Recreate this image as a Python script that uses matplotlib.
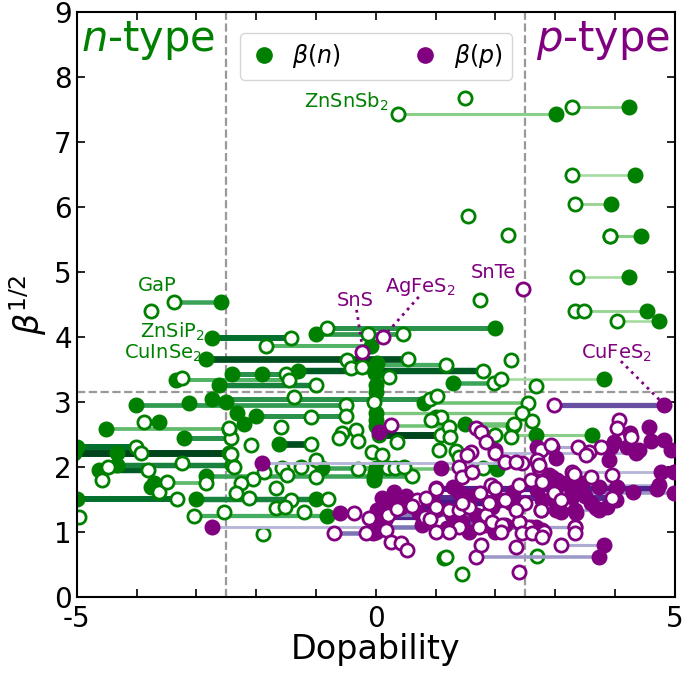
import numpy as np
import matplotlib
matplotlib.use("Agg")
import matplotlib.pyplot as plt
from matplotlib.lines import Line2D

na = np.nan

# n-type materials (green): segment from filled beta(n) marker to open marker
g_beta = [7.43, 7.54, 6.49, 6.05, 5.55, 4.92, 4.40, 4.25, 4.54, 3.98, 4.14, 4.05, 3.87, 3.66,
          3.57, 3.48, 3.44, 3.34, 3.26, 3.30, 3.35, 3.05, 2.99, 2.95, 2.69, 2.78, 2.58, 2.44,
          2.35, 2.31, 2.21, 1.95, 2.03, 1.75, 1.86, 1.51, 1.51, 1.25, 1.98, 2.83, 2.64, 2.49,
          2.66, 1.97, 2.49]
g_fill = [3.02, 4.23, 4.33, 3.93, 4.43, 4.23, 4.53, 4.73, -2.59, -2.73, 2.00, -1.00, -0.08, -2.83,
          0.00, -1.30, -2.41, -3.34, -2.62, 1.30, 3.81, -2.74, 0.80, -4.01, -3.63, -2.00, -4.51, -3.21,
          -1.62, -5.00, -5.05, -4.63, -4.33, -3.71, -2.83, -5.00, -3.01, -0.82, -0.90, 0.00, 0.00, 0.05,
          1.50, 2.02, 3.61]
g_open = [0.38, 3.28, 3.29, 3.34, 3.91, 3.36, 3.34, 4.03, -3.38, -1.42, -0.82, 0.45, -1.84, 0.54,
          1.17, 1.79, -1.50, -1.45, -1.00, 1.97, 2.10, 0.90, 2.55, -0.50, -3.88, -0.50, -2.46, -2.42,
          -1.09, -4.01, -2.46, -3.81, -2.41, -2.84, 0.60, -3.33, -0.79, -3.04, 0.20, 2.45, 2.30, 1.09,
          2.31, -0.30, 2.00]
g_shade = [0.2, 0.15, 0.1, 0.15, 0.2, 0.1, 0.15, 0.1, 0.5, 0.8, 0.6, 0.55, 0.4, 0.95,
           0.45, 0.9, 0.6, 0.4, 0.7, 0.5, 0.1, 0.6, 0.3, 0.55, 0.7, 0.6, 0.35, 0.6,
           0.95, 0.8, 1.0, 0.9, 0.7, 0.35, 0.5, 0.8, 0.7, 0.45, 0.5, 0.25, 0.3, 1.0,
           0.3, 0.3, 0.2]

# green markers without a visible partner
g_dot_x = [3.91, -1.91, 0.02, -0.02, 0.00, 0.00, -2.51, -3.13, -2.32, -2.20, -4.33, -3.75, -1.00,
           1.00, 2.68, 1.14, 0.00, -0.02, -0.03, 0.00, -0.03]
g_dot_y = [5.55, 3.43, 3.60, 3.45, 3.26, 3.15, 3.00, 2.99, 2.83, 2.67, 2.21, 1.69, 1.51,
           2.77, 2.49, 0.60, 1.98, 1.91, 1.80, 2.72, 1.85]
g_ring_x = [1.49, 1.54, 2.21, 3.49, 1.74, -3.75, -3.24, 2.68, 2.26, 0.22, 1.02, -1.37, -0.03,
            -2.46, -1.09, -1.59, -0.33, -0.57, -2.09, -4.58, -4.48, -3.63, -3.49, -3.24, -4.97,
            -1.89, -2.54, -3.93, -2.42, -2.37, -1.57, -1.25, -1.00, -1.00, -1.49, -1.87, -2.06,
            -2.26, -2.34, -2.12, -1.67, -1.42, -1.67, -1.51, -1.20, -0.07, -0.62, -0.30, 1.09,
            0.92, 1.22, 1.25, 1.05, 1.35, 1.40, 1.80, 0.10, 0.33, 0.47, 0.35, 2.61, 2.27, 1.18,
            1.44, 2.69, 0.17, 0.33, -0.13, -0.48, -0.42, -0.23]
g_ring_y = [7.68, 5.86, 5.57, 4.40, 4.57, 4.40, 3.37, 3.25, 3.65, 3.38, 3.10, 3.08, 3.00,
            2.60, 2.77, 2.62, 2.57, 2.52, 2.34, 1.80, 2.00, 1.62, 1.77, 2.06, 1.23,
            0.97, 1.31, 2.21, 2.20, 2.00, 1.98, 2.00, 2.11, 1.85, 1.88, 1.92, 1.82,
            1.75, 1.60, 1.52, 1.68, 1.49, 1.37, 1.38, 1.31, 2.23, 2.45, 2.40, 2.77,
            2.72, 2.62, 2.46, 2.26, 2.25, 2.15, 1.98, 2.18, 1.98, 2.00, 2.38, 2.71, 2.46, 0.62,
            0.35, 0.63, 1.49, 1.46, 4.05, 3.65, 3.52, 3.54]

# p-type materials (purple)
p_beta = [2.95, 1.08, 2.07, 1.29, 0.98, 2.22, 1.85, 1.72, 1.66, 1.52, 1.45, 1.38, 1.23, 1.08,
          1.08, 0.62, 0.80, 2.31, 1.60, 1.92, 1.34, 1.15, 1.26]
p_fill = [4.82, -2.74, -1.91, -0.59, -0.05, 4.35, 2.94, 4.73, 4.70, 0.10, 0.25, 0.42, -0.03, -0.03,
          2.59, 3.73, 3.81, 2.69, 4.98, 4.77, 3.73, 1.44, 1.67]
p_open = [2.98, 1.40, 2.45, -0.37, -0.70, 2.00, 3.60, 2.39, 1.00, 3.95, 2.50, 1.00, 0.83, 2.55,
          3.34, 1.67, 3.09, 3.76, 2.98, 3.28, 2.76, 2.40, 0.20]
p_shade = [0.65, 0.15, 0.15, 0.5, 0.5, 0.15, 0.25, 0.15, 0.85, 0.8, 0.9, 0.9, 0.85, 0.5,
           0.25, 0.3, 0.2, 0.2, 0.3, 0.15, 0.25, 0.6, 0.45]

p_dot_x = [0.05, 1.09, 4.57, 4.93, 4.40, 4.20, 3.98, 3.90, 3.93, 4.82, 3.01, 2.69, 3.01, 3.73, 4.01,
           4.01, 4.98, 4.03, 3.31, 3.03, 2.98, 3.28, 3.35, 3.09, 2.76, 2.56, 3.68, 3.86, 2.00, 4.25,
           4.60, 1.00, 1.30, 1.39, 0.94, 0.72, 1.00, 1.27, 1.67, 1.94, 2.06, 2.27, 1.84, 2.17, 2.42,
           0.02, 0.00, 0.05, 0.77, 1.19, 1.56, 2.00, 2.68, 2.78, 2.69, 2.78, 2.98, 3.01, 2.89, 3.18,
           3.28, 3.34, 0.50, 0.30, 1.60, 2.30, 0.15, 3.50, 3.60, 4.30, 3.45]
p_dot_y = [2.54, 1.98, 2.62, 2.26, 2.26, 2.31, 2.38, 2.11, 2.31, 2.42, 2.14, 2.08, 1.69, 1.69, 1.68,
           1.49, 1.92, 1.69, 1.69, 1.80, 1.60, 1.54, 1.29, 1.31, 1.34, 1.03, 1.37, 1.38, 2.26, 2.52,
           2.40, 1.68, 1.69, 1.62, 1.49, 1.29, 1.34, 1.26, 1.26, 1.38, 1.49, 1.45, 1.11, 1.11, 1.14,
           1.34, 1.00, 1.26, 1.11, 1.06, 1.00, 1.00, 1.08, 1.03, 1.65, 1.49, 1.49, 1.34, 1.88, 1.75,
           1.65, 1.34, 1.55, 1.62, 1.55, 1.62, 1.18, 1.55, 1.45, 1.62, 1.75]
p_ring_x = [-0.23, 0.13, 2.46, 0.25, 1.67, 1.76, 1.84, 1.59, 2.17, 2.34, 1.52, 1.39, 1.44, 1.61,
            2.94, 2.76, 3.39, 3.56, 4.06, 4.03, 2.69, 2.73, 3.31, 3.95, 4.27, 3.51, 2.93, 2.59,
            2.81, 3.34, 3.34, -0.12, 0.17, 0.69, 0.84, 1.22, 1.39, 1.56, 1.92, 2.00, 2.17, 2.34,
            1.84, 1.94, 2.11, 2.09, 1.72, 1.00, 1.22, 2.44, 2.73, 2.78, 2.61, 2.78, 3.09, 0.25,
            0.42, 0.52, 1.76, 2.34, 2.39, -0.17, 0.60, 0.35, 1.45, 1.75, 0.90, 1.90]
p_ring_y = [3.77, 4.00, 4.74, 2.65, 2.60, 2.54, 2.38, 2.23, 2.08, 2.08, 2.18, 2.00, 1.85, 1.92,
            2.31, 2.26, 2.31, 2.23, 2.72, 2.60, 2.11, 1.98, 1.90, 1.88, 2.46, 2.18, 2.34, 1.80,
            1.00, 1.08, 0.98, 1.22, 1.03, 1.49, 1.52, 1.34, 1.34, 1.38, 1.72, 1.68, 1.49, 1.34,
            1.26, 1.15, 1.11, 1.00, 1.08, 1.00, 1.00, 0.98, 2.03, 1.77, 0.98, 0.92, 1.49, 0.85,
            0.83, 0.72, 0.80, 0.77, 0.38, 0.98, 1.40, 1.35, 1.45, 1.60, 1.20, 1.45]


fig = plt.figure(figsize=(6.85, 6.75), dpi=100)
ax = fig.add_axes([0.112, 0.1156, 0.873, 0.866])


def draw_group(beta, xf, xo, shade, cmap, color, dot_x, dot_y, ring_x, ring_y, z):
    for b, f, o, s in zip(beta, xf, xo, shade):
        ax.plot([f, o], [b, b], color=cmap(0.3 + 0.7 * s), lw=1.5 + 3.5 * s,
                solid_capstyle="butt", zorder=z)
    ax.plot(list(xf) + dot_x, list(beta) + dot_y, "o", color=color, ms=10.5, zorder=z + 1)
    ax.plot(list(xo) + ring_x, list(beta) + ring_y, "o", mfc="white", mec=color,
            mew=2, ms=9.5, zorder=z + 1)


draw_group(g_beta, g_fill, g_open, g_shade, plt.cm.Greens, "green",
           g_dot_x, g_dot_y, g_ring_x, g_ring_y, 1)
draw_group(p_beta, p_fill, p_open, p_shade, plt.cm.Purples, "purple",
           p_dot_x, p_dot_y, p_ring_x, p_ring_y, 3)

# thresholds
for xv in (-2.5, 2.5):
    ax.axvline(xv, color="#999999", ls="--", lw=1.6, zorder=0.5)
ax.axhline(np.sqrt(10), color="#999999", ls="--", lw=1.6, zorder=0.5)

ax.text(-4.93, 8.4, r"$n$-type", color="green", fontsize=30, va="baseline", ha="left")
ax.text(4.92, 8.4, r"$p$-type", color="purple", fontsize=30, va="baseline", ha="right")

# labels for selected materials
lab = dict(fontsize=14)
ax.text(0.22, 7.62, r"ZnSnSb$_2$", color="green", ha="right", va="center", **lab)
ax.text(-3.66, 4.8, "GaP", color="green", ha="center", va="center", **lab)
ax.text(-2.86, 4.08, r"ZnSiP$_2$", color="green", ha="right", va="center", **lab)
ax.text(-2.9, 3.75, r"CuInSe$_2$", color="green", ha="right", va="center", **lab)
ax.text(-0.35, 4.57, "SnS", color="purple", ha="center", va="center", **lab)
ax.text(0.75, 4.77, r"AgFeS$_2$", color="purple", ha="center", va="center", **lab)
ax.text(1.97, 5.0, "SnTe", color="purple", ha="center", va="center", **lab)
ax.text(4.03, 3.75, r"CuFeS$_2$", color="purple", ha="center", va="center", **lab)
ax.plot([-0.32, -0.23], [4.42, 3.88], ls=":", color="purple", lw=2, zorder=6)
ax.plot([0.72, 0.2], [4.62, 4.08], ls=":", color="purple", lw=2, zorder=6)
ax.plot([4.1, 4.75], [3.63, 3.03], ls=":", color="purple", lw=2, zorder=6)

ax.set_xlim(-5, 5)
ax.set_ylim(0, 9)
ax.set_xticks(np.arange(-5, 6, 1))
ax.set_xticklabels(["-5", "", "", "", "", "0", "", "", "", "", "5"])
ax.set_yticks(np.arange(0, 10, 1))
ax.tick_params(direction="in", length=6, width=1.2, top=True, right=True, labelsize=20)
ax.tick_params(axis="x", pad=6)
for sp in ax.spines.values():
    sp.set_linewidth(1.5)

ax.set_xlabel("Dopability", fontsize=24, labelpad=0)
ax.set_ylabel(r"$\beta^{1/2}$", fontsize=24, labelpad=4)

handles = [Line2D([], [], marker="o", ls="none", color="green", ms=11, label=r"$\beta(n)$"),
           Line2D([], [], marker="o", ls="none", color="purple", ms=11, label=r"$\beta(p)$")]
ax.legend(handles=handles, ncol=2, loc="upper center", bbox_to_anchor=(0.5, 0.985),
          fontsize=17, columnspacing=3.0, handletextpad=0.6, handlelength=1.2)

fig.savefig("out.png", dpi=100)
